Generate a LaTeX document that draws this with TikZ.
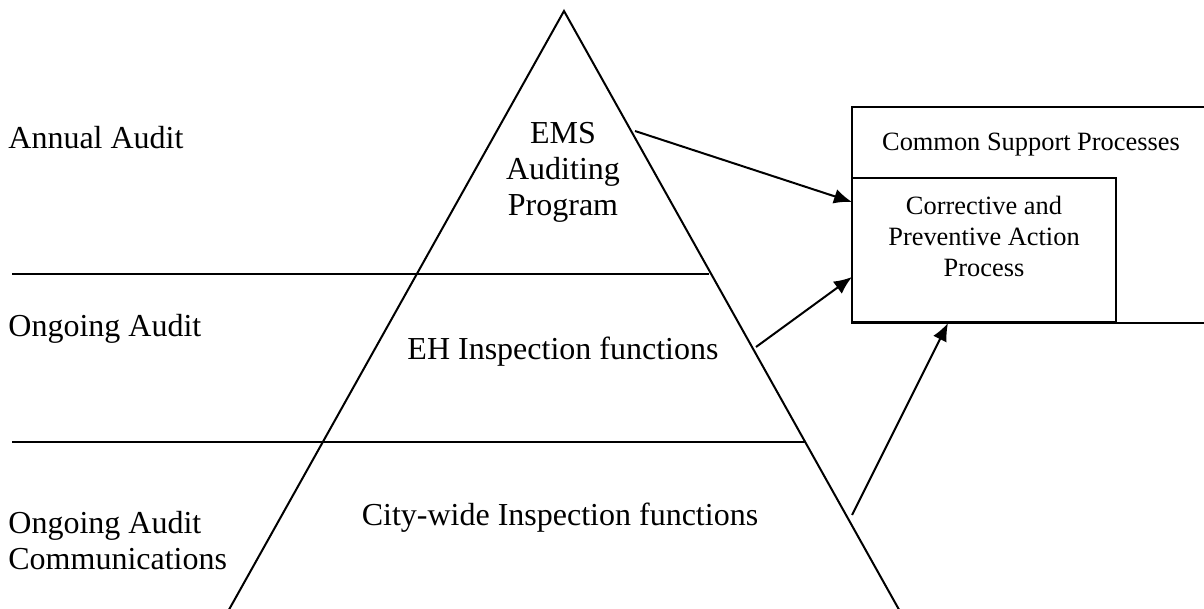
\documentclass[tikz,border=0pt]{standalone}
\usepackage{fontspec}
\setmainfont{Liberation Serif}
\usetikzlibrary{arrows.meta}
\begin{document}
\begin{tikzpicture}[x=0.5pt,y=-0.5pt,
  line/.style={line width=1pt},
  conn/.style={line width=1pt,-{Latex[length=9pt,width=7.5pt]}},
  big/.style={font=\fontsize{16}{18}\selectfont,inner sep=0pt},
  small/.style={font=\fontsize{13.2}{15.5}\selectfont,inner sep=0pt}]
\useasboundingbox (0,0) rectangle (1204,609);
% pyramid
\coordinate (apex) at (564,11);
\coordinate (bl) at (226,615);
\coordinate (br) at (902,615);
\draw[line] (bl) -- (apex) -- (br);
% level separators
\coordinate (s1a) at (12,274);
\coordinate (s1b) at (709,274);
\coordinate (s2a) at (12,442);
\coordinate (s2b) at (805,442);
\draw[line] (s1a) -- (s1b);
\draw[line] (s2a) -- (s2b);
% left labels
\node[big,anchor=west] (annual) at (8,138) {Annual Audit};
\node[big,anchor=west] (ongoing) at (8,329) {Ongoing Audit};
\node[big,anchor=west,align=left] (comm) at (8,541) {Ongoing Audit\\Communications};
% pyramid texts
\node[big,align=center] (ems) at (563,172) {EMS\\Auditing\\Program};
\node[big] (eh) at (563,352) {EH Inspection functions};
\node[big] (city) at (560,518) {City-wide Inspection functions};
% outer box (open to the right)
\draw[line] (1206,107) -- (852,107) -- (852,323) -- (1206,323);
\node[small] (csp) at (1031,145) {Common Support Processes};
% inner box
\draw[line,fill=white] (852,178) rectangle (1116,322);
\node[small,align=center] (cpa) at (984,236) {Corrective and\\Preventive Action\\Process};
% arrows
\coordinate (a1s) at (635,131);
\coordinate (a1e) at (852,202);
\coordinate (a2s) at (756,347);
\coordinate (a2e) at (852,277);
\coordinate (a3s) at (852,515);
\coordinate (a3e) at (948,323);
\draw[conn] (a1s) -- (a1e);
\draw[conn] (a2s) -- (a2e);
\draw[conn] (a3s) -- (a3e);
\end{tikzpicture}
\end{document}
